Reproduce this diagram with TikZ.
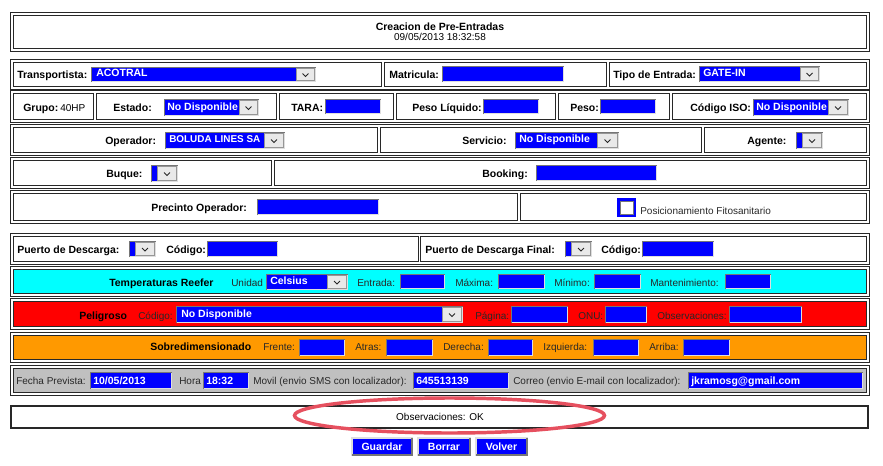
\documentclass[tikz,border=0pt]{standalone}
\usepackage{fontspec}
\setmainfont{Liberation Sans}
\definecolor{inblue}{RGB}{0,0,255}
\definecolor{frmcol}{RGB}{40,40,40}
\definecolor{cyanbg}{RGB}{0,255,255}
\definecolor{redbg}{RGB}{255,0,0}
\definecolor{orgbg}{RGB}{255,153,0}
\definecolor{graybg}{RGB}{192,192,192}
\definecolor{indark}{RGB}{118,118,118}
\definecolor{inlight}{RGB}{222,222,222}
\definecolor{btngray}{RGB}{233,233,233}
\definecolor{btnline}{RGB}{150,150,150}
\definecolor{ellred}{RGB}{230,80,95}
\definecolor{txtgray}{RGB}{40,40,40}
\tikzset{
  frame/.style={draw=frmcol, line width=0.75pt},
  lb/.style={font=\fontsize{7.875pt}{9pt}\selectfont\bfseries, anchor=base west, inner sep=0pt, text=black},
  rg/.style={font=\fontsize{7.5pt}{9pt}\selectfont, anchor=base west, inner sep=0pt, text=txtgray},
  wt/.style={font=\fontsize{7.875pt}{9pt}\selectfont\bfseries, anchor=base west, inner sep=0pt, text=white},
  darkln/.style={draw=indark, line width=0.75pt},
  lightln/.style={draw=inlight, line width=0.75pt},
  chev/.style={draw=black!85, line width=0.75pt},
}
% blue text input: x1 y1 x2 y2
\newcommand\inbox[4]{%
  \fill[inblue] (#1,#2) rectangle (#3,#4);
  \draw[darkln] (#1+0.5,#4) -- (#1+0.5,#2+0.5) -- (#3,#2+0.5);
  \draw[lightln] (#3-0.5,#2+1) -- (#3-0.5,#4-0.5) -- (#1+1,#4-0.5);
}
% dropdown: x1 y1 xb x2 y2
\newcommand\ddbox[5]{%
  \fill[inblue] (#1,#2) rectangle (#3,#5);
  \fill[btngray] (#3,#2) rectangle (#4,#5);
  \draw[draw=btnline, line width=0.75pt] (#3+0.5,#2+1.5) rectangle (#4-1.5,#5-1.5);
  \draw[darkln] (#1+0.5,#5) -- (#1+0.5,#2+0.5) -- (#4,#2+0.5);
  \draw[lightln] (#4-0.5,#2+1) -- (#4-0.5,#5-0.5) -- (#1+1,#5-0.5);
  \draw[chev] ({(#3+#4)/2-3.5},{(#2+#5)/2-1}) -- ({(#3+#4)/2-0.5},{(#2+#5)/2+2}) -- ({(#3+#4)/2+2.5},{(#2+#5)/2-1});
}
\newcommand\rowbox[2]{\draw[frame] (10.5,#1) rectangle (869.5,#2);}
\newcommand\cellbox[4]{\draw[frame] (#1,#2) rectangle (#3,#4);}
% button: x1 y1 x2 y2 name text
\newcommand\formbtn[6]{%
  \fill[inlight] (#1,#2) rectangle (#3,#4);
  \draw[draw=indark, line width=1.5pt] (#1+1,#4-1) -- (#3-1,#4-1) -- (#3-1,#2+1);
  \fill[inblue] (#1+2,#2+2) rectangle (#3-2,#4-2);
  \node[wt, anchor=base] (#5) at ({(#1+#3)/2},450) {#6};
}
\begin{document}
\begin{tikzpicture}[x=0.75pt,y=-0.75pt]
\useasboundingbox (0,0) rectangle (883,465);
\fill[white] (0,0) rectangle (883,465);

% ---------- title ----------
\rowbox{12.5}{51.5}
\cellbox{13.5}{15.5}{866.5}{48.5}
\node[lb, anchor=base] (title) at (440,30) {Creacion de Pre-Entradas};
\node[rg, anchor=base, text=black] (fecha) at (440,40.7) {09/05/2013 18:32:58};

% ---------- row 1 ----------
\rowbox{59.5}{89.5}
\cellbox{13.5}{62.5}{381.5}{86.5}
\cellbox{384.5}{62.5}{606.5}{86.5}
\cellbox{609.5}{62.5}{866.5}{86.5}
\node[lb] (transp) at (17,78) {Transportista:};
\ddbox{91}{67}{296}{316}{82}
\node[wt] (acotral) at (96,76.5) {ACOTRAL};
\node[lb] (matric) at (389,78) {Matricula:};
\inbox{442}{66}{564}{82}
\node[lb] (tipo) at (613,78) {Tipo de Entrada:};
\ddbox{699}{66}{800}{820}{82}
\node[wt] (gatein) at (703,76.5) {GATE-IN};

% ---------- row 2 ----------
\rowbox{90.5}{122.5}
\cellbox{13.5}{93.5}{93.5}{119.5}
\cellbox{96.5}{93.5}{276.5}{119.5}
\cellbox{279.5}{93.5}{393.5}{119.5}
\cellbox{396.5}{93.5}{555.5}{119.5}
\cellbox{558.5}{93.5}{669.5}{119.5}
\cellbox{672.5}{93.5}{866.5}{119.5}
\node[lb] (grupo) at (23,111) {Grupo:};
\node[rg, text=black] (grupov) at (60,111) {40HP};
\node[lb] (estado) at (113,111) {Estado:};
\ddbox{164}{99}{239}{259}{116}
\node[wt] (estadov) at (167,110) {No Disponible};
\node[lb] (tara) at (291,111) {TARA:};
\inbox{325}{99}{381}{114}
\node[lb] (pliq) at (412,111) {Peso Líquido:};
\inbox{483}{99}{539}{114}
\node[lb] (peso) at (570,111) {Peso:};
\inbox{600}{99}{656}{114}
\node[lb] (iso) at (690,111) {Código ISO:};
\ddbox{753}{99}{828}{849}{116}
\node[wt] (isov) at (756,110) {No Disponible};

% ---------- row 3 ----------
\rowbox{124.5}{155.5}
\cellbox{13.5}{127.5}{377.5}{152.5}
\cellbox{380.5}{127.5}{701.5}{152.5}
\cellbox{704.5}{127.5}{866.5}{152.5}
\node[lb] (oper) at (105,144) {Operador:};
\ddbox{165}{132}{264}{285}{149}
\node[wt, font=\fontsize{7.45pt}{9pt}\selectfont\bfseries] (operv) at (169,142.5) {BOLUDA LINES SA};
\node[lb] (serv) at (462,144) {Servicio:};
\ddbox{515}{132}{597}{619}{149}
\node[wt] (servv) at (519,142.5) {No Disponible};
\node[lb] (agente) at (747,144) {Agente:};
\ddbox{796}{132}{802}{823}{149}

% ---------- row 4 ----------
\rowbox{157.5}{188.5}
\cellbox{13.5}{160.5}{271.5}{185.5}
\cellbox{274.5}{160.5}{866.5}{185.5}
\node[lb] (buque) at (106,177) {Buque:};
\ddbox{151}{165}{157}{178}{182}
\node[lb] (booking) at (482,177) {Booking:};
\inbox{536}{165}{657}{181}

% ---------- row 5 ----------
\rowbox{190.5}{223.5}
\cellbox{13.5}{193.5}{517.5}{220.5}
\cellbox{520.5}{193.5}{866.5}{220.5}
\node[lb] (precinto) at (151,211.5) {Precinto Operador:};
\inbox{257}{199}{379}{215}
\fill[inblue] (617,198) rectangle (636,217);
\filldraw[fill=white, draw=indark, line width=0.75pt] (620.5,201.5) rectangle (633.5,214.5);
\node[rg] (fito) at (640,214) {Posicionamiento Fitosanitario};

% ---------- row 6 ----------
\rowbox{233.5}{264.5}
\cellbox{13.5}{236.5}{418.5}{261.5}
\cellbox{420.5}{236.5}{866.5}{261.5}
\node[lb] (puerto) at (17,253.5) {Puerto de Descarga:};
\ddbox{129}{241}{135}{156}{257}
\node[lb] (cod1) at (166,253.5) {Código:};
\inbox{207}{241}{278}{257}
\node[lb] (puertof) at (425,253.5) {Puerto de Descarga Final:};
\ddbox{565}{241}{571}{592}{257}
\node[lb] (cod2) at (601,253.5) {Código:};
\inbox{642}{241}{714}{257}

% ---------- row 7 (cyan) ----------
\rowbox{266.5}{296.5}
\filldraw[frame, fill=cyanbg] (13.5,269.5) rectangle (866.5,293.5);
\node[lb] (reefer) at (109,286) {Temperaturas Reefer};
\node[rg] (unidad) at (231,286) {Unidad};
\ddbox{266}{274}{327}{348}{290}
\node[wt] (celsius) at (270,284.5) {Celsius};
\node[rg] (entrada) at (357,286) {Entrada:};
\inbox{400}{274}{445}{289}
\node[rg] (maxima) at (455,286) {Máxima:};
\inbox{498}{274}{545}{289}
\node[rg] (minimo) at (554,286) {Mínimo:};
\inbox{594}{274}{641}{289}
\node[rg] (mant) at (650,286) {Mantenimiento:};
\inbox{725}{274}{771}{289}

% ---------- row 8 (red) ----------
\rowbox{298.5}{329.5}
\filldraw[frame, fill=redbg] (13.5,301.5) rectangle (866.5,326.5);
\node[lb] (peligro) at (79,319) {Peligroso};
\node[rg] (codp) at (138,319) {Código:};
\ddbox{176}{306}{442}{463}{323}
\node[wt] (codpv) at (181,317.5) {No Disponible};
\node[rg] (pagina) at (475,319) {Página:};
\inbox{511}{306}{568}{323}
\node[rg] (onu) at (578,319) {ONU:};
\inbox{605}{306}{647}{323}
\node[rg] (obsp) at (657,319) {Observaciones:};
\inbox{729}{306}{802}{323}

% ---------- row 9 (orange) ----------
\rowbox{332.5}{362.5}
\filldraw[frame, fill=orgbg] (13.5,335.5) rectangle (866.5,359.5);
\node[lb] (sobre) at (150,350.7) {Sobredimensionado};
\node[rg] (frente) at (263,350.7) {Frente:};
\inbox{299}{339}{345}{356}
\node[rg] (atras) at (355,350.7) {Atras:};
\inbox{386}{339}{433}{356}
\node[rg] (derecha) at (443,350.7) {Derecha:};
\inbox{488}{339}{533}{356}
\node[rg] (izq) at (543,350.7) {Izquierda:};
\inbox{593}{339}{639}{356}
\node[rg] (arriba) at (649,350.7) {Arriba:};
\inbox{683}{339}{730}{356}

% ---------- row 10 (gray) ----------
\rowbox{365.5}{395.5}
\filldraw[frame, fill=graybg] (13.5,368.5) rectangle (866.5,392.5);
\node[rg] (fprev) at (16,384) {Fecha Prevista:};
\inbox{90}{372}{172}{389}
\node[wt] (fprevv) at (93,384) {10/05/2013};
\node[rg] (hora) at (179,384) {Hora};
\inbox{203}{372}{249}{389}
\node[wt] (horav) at (206,384) {18:32};
\node[rg] (movil) at (253,384) {Movil (envio SMS con localizador):};
\inbox{413}{372}{509}{389}
\node[wt] (movilv) at (416,384) {645513139};
\node[rg] (correo) at (513,384) {Correo (envio E-mail con localizador):};
\inbox{688}{372}{863}{389}
\node[wt] (correov) at (691,384) {jkramosg@gmail.com};

% ---------- observaciones ----------
\draw[draw=frmcol, line width=1.4pt] (10.8,405.8) rectangle (868.2,428.4);
\node[rg, anchor=base, text=black] (obs) at (440,420.7) {Observaciones: OK};
\draw[draw=ellred, line width=2.6pt] (449.5,415.5) ellipse [x radius=155, y radius=17.5];

% ---------- buttons ----------
\formbtn{351}{437}{413}{456}{guardar}{Guardar}
\formbtn{417}{437}{471}{456}{borrar}{Borrar}
\formbtn{475}{437}{528}{456}{volver}{Volver}
\end{tikzpicture}
\end{document}
